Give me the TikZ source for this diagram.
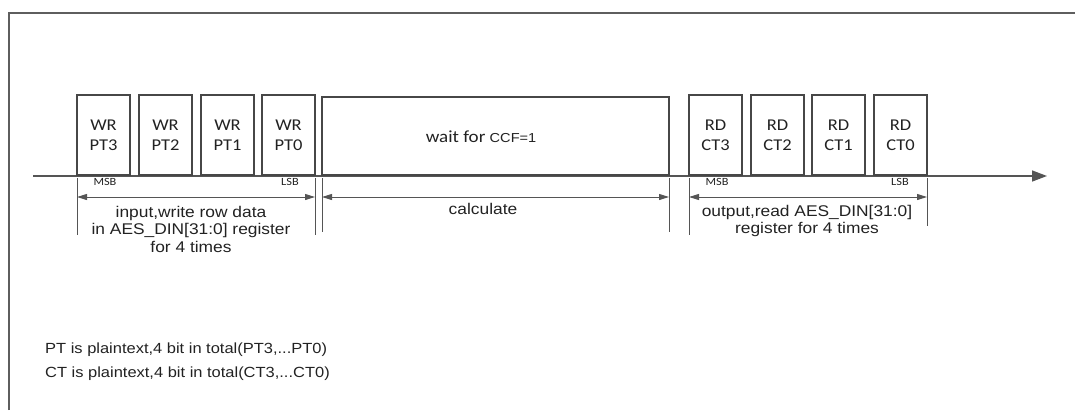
\documentclass[tikz,border=0pt]{standalone}
\usepackage{fontspec}
\setmainfont{Liberation Sans}[FakeStretch=1.12]
\newfontfamily\boxfont{Carlito}[FakeStretch=1.12]
\usetikzlibrary{arrows.meta}
\definecolor{boxc}{HTML}{474747}
\definecolor{linec}{HTML}{555555}
\definecolor{txt}{HTML}{222222}
\definecolor{framec}{HTML}{5E5E5E}
\begin{document}
\begin{tikzpicture}[x=1pt,y=-1pt,
  wbox/.style={draw=boxc, line width=1.8pt, minimum width=53pt, minimum height=80pt, inner sep=0pt, align=center, text=txt, font=\boxfont\fontsize{16.5}{20}\selectfont},
  bigbox/.style={draw=boxc, line width=1.8pt, minimum width=347pt, minimum height=78pt, inner sep=0pt},
  tag/.style={inner sep=0pt, text=txt, font=\boxfont\fontsize{11}{12}\selectfont},
  dimtxt/.style={inner sep=0pt, align=center, text=txt, font=\fontsize{15.5}{17.5}\selectfont},
  note/.style={inner sep=0pt, anchor=base west, text=txt, font=\fontsize{14.7}{16}\selectfont},
  tick/.style={draw=linec, line width=0.9pt},
  dim/.style={draw=linec, line width=1pt, {Triangle[length=10pt,width=6pt]}-{Triangle[length=10pt,width=6pt]}},
  axis/.style={draw=linec, line width=1.4pt, -{Triangle[length=15pt,width=11pt]}}
]
\useasboundingbox (0,0) rectangle (1075,410);
% frame
\draw[framec, line width=2pt] (9,410) -- (9,13) -- (1075,13);

% timeline
\coordinate (t0) at (33,176);
\coordinate (t1) at (1047,176);
\draw[axis] (t0) -- (t1);

% write boxes
\node[wbox] (wr3) at (103.5,135) {WR\\PT3};
\node[wbox] (wr2) at (165.5,135) {WR\\PT2};
\node[wbox] (wr1) at (227.5,135) {WR\\PT1};
\node[wbox] (wr0) at (288.5,135) {WR\\PT0};

% wait box
\node[bigbox] (wait) at (495.5,136) {};
\node[inner sep=0pt, text=txt, anchor=base] (waittxt) at (481,142) {\boxfont\fontsize{17}{20}\selectfont wait for {\rmfamily\fontsize{13}{14}\selectfont CCF=1}};

% read boxes
\node[wbox] (rd3) at (715.5,135) {RD\\CT3};
\node[wbox] (rd2) at (777.5,135) {RD\\CT2};
\node[wbox] (rd1) at (838.5,135) {RD\\CT1};
\node[wbox] (rd0) at (900.5,135) {RD\\CT0};

% MSB / LSB
\node[tag] (msb1) at (105,182) {MSB};
\node[tag] (lsb1) at (290,182) {LSB};
\node[tag] (msb2) at (717,182) {MSB};
\node[tag] (lsb2) at (900,182) {LSB};

% ticks
\coordinate (a1) at (77,178);  \coordinate (a2) at (77,235);
\coordinate (b1) at (315,178); \coordinate (b2) at (315,235);
\coordinate (c1) at (322,178); \coordinate (c2) at (322,232);
\coordinate (d1) at (669,178); \coordinate (d2) at (669,232);
\coordinate (e1) at (689,178); \coordinate (e2) at (689,235);
\coordinate (f1) at (927,178); \coordinate (f2) at (927,226);
\draw[tick] (a1) -- (a2);
\draw[tick] (b1) -- (b2);
\draw[tick] (c1) -- (c2);
\draw[tick] (d1) -- (d2);
\draw[tick] (e1) -- (e2);
\draw[tick] (f1) -- (f2);

% dimension arrows
\coordinate (da) at (77,197);  \coordinate (db) at (315,197);
\coordinate (dc) at (322,197); \coordinate (dd) at (669,197);
\coordinate (de) at (689,197); \coordinate (df) at (927,197);
\draw[dim] (da) -- (db);
\draw[dim] (dc) -- (dd);
\draw[dim] (de) -- (df);

% dimension texts
\node[dimtxt, anchor=north] (intxt) at (191,206) {input,write row data\\in AES\_DIN[31:0] register\\for 4 times};
\node[dimtxt, anchor=base] (calctxt) at (483,214) {calculate};
\node[dimtxt, anchor=north] (outtxt) at (807,205) {output,read AES\_DIN[31:0]\\register for 4 times};

% notes
\node[note] (n1) at (45,353) {PT is plaintext,4 bit in total(PT3,...PT0)};
\node[note] (n2) at (45,377) {CT is plaintext,4 bit in total(CT3,...CT0)};
\end{tikzpicture}
\end{document}
